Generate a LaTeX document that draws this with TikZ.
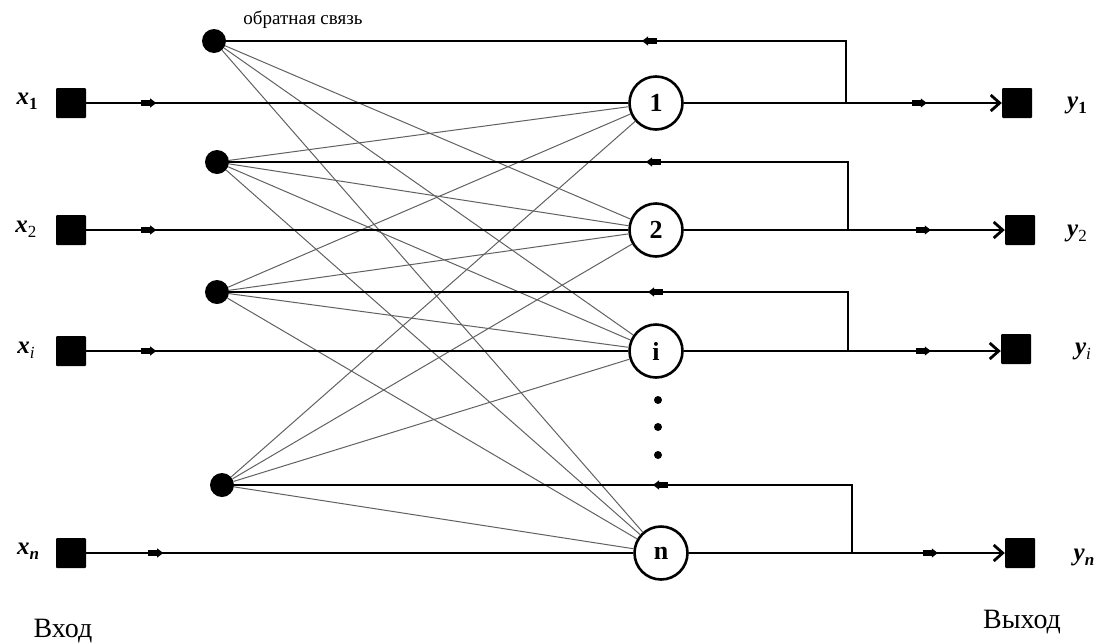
\documentclass[tikz,border=0pt]{standalone}
\usepackage{fontspec}
\setmainfont{Liberation Serif}
\usetikzlibrary{arrows.meta,decorations.markings}
\newcommand\midtip{\fill (-15pt,-3pt) rectangle (-5pt,3pt); \fill (-6pt,-4.6pt) -- (0pt,0pt) -- (-6pt,4.6pt) -- cycle;}
\newcommand\lab[2]{{\fontsize{25}{25}\selectfont\bfseries\itshape #1}\raisebox{-5pt}{\fontsize{17}{17}\selectfont #2}}
\tikzset{
  thickline/.style={line width=2.8pt},
  insq/.style={fill=black, minimum size=30pt, inner sep=0pt, rounded corners=1pt},
  neuron/.style={circle, draw, line width=2.6pt, minimum size=53pt, inner sep=0pt, fill=white, font=\fontsize{26}{26}\selectfont\bfseries},
  fbdot/.style={circle, fill=black, minimum size=24pt, inner sep=0pt},
  vdot/.style={circle, fill=black, minimum size=8pt, inner sep=0pt},
  weight/.style={draw=black!62, line width=1pt},
  midmark/.style={postaction={decorate}, decoration={markings, mark=at position #1 with {\midtip}}},
  lbl/.style={inner sep=0pt},
  big/.style={inner sep=0pt, font=\fontsize{28}{28}\selectfont},
}
\begin{document}
\begin{tikzpicture}[x=1pt,y=-1pt]
\useasboundingbox (0,0) rectangle (1099,643);
% input squares
\node[insq] (x1) at (71,103) {};
\node[insq] (x2) at (71,230) {};
\node[insq] (xi) at (71,351) {};
\node[insq] (xn) at (71,553) {};
% output squares
\node[insq] (o1) at (1017,103) {};
\node[insq] (o2) at (1020,230) {};
\node[insq] (oi) at (1016,349) {};
\node[insq] (on) at (1020,553) {};
% neurons
\node[neuron] (n1) at (656,103) {1};
\node[neuron] (n2) at (656,230) {2};
\node[neuron] (ni) at (656,351) {i};
\node[neuron] (nn) at (661,553) {n};
% feedback dots
\node[fbdot] (d1) at (214,41) {};
\node[fbdot] (d2) at (217,162) {};
\node[fbdot] (d3) at (217,292) {};
\node[fbdot] (d4) at (222,485) {};
% ellipsis
\node[vdot] (e1) at (658,400) {};
\node[vdot] (e2) at (658,427) {};
\node[vdot] (e3) at (658,455) {};
% weights
\foreach \d/\n in {d1/n2,d1/ni,d1/nn,d2/n1,d2/n2,d2/ni,d2/nn,d3/n1,d3/n2,d3/ni,d3/nn,d4/n1,d4/n2,d4/ni,d4/nn}
  \draw[weight] (\d) -- (\n);
% input lines
\draw[thickline, midmark=70pt] (x1) -- (n1);
\draw[thickline, midmark=70pt] (x2) -- (n2);
\draw[thickline, midmark=70pt] (xi) -- (ni);
\draw[thickline, midmark=77pt] (xn) -- (nn);
% output lines
\draw[thickline, midmark=243pt, -{Straight Barb[length=9pt,width=16pt]}] (n1) -- (o1.west |- n1);
\draw[thickline, midmark=247pt, -{Straight Barb[length=9pt,width=16pt]}] (n2) -- (o2.west |- n2);
\draw[thickline, midmark=247pt, -{Straight Barb[length=9pt,width=16pt]}] (ni) -- (oi.west |- ni);
\draw[thickline, midmark=249pt, -{Straight Barb[length=9pt,width=16pt]}] (nn) -- (on.west |- nn);
% feedback
\coordinate (j1) at (846,103);
\coordinate (j2) at (848,230);
\coordinate (ji) at (848,351);
\coordinate (jn) at (852,553);
\draw[thickline, midmark=266pt] (j1) |- (d1);
\draw[thickline, midmark=270pt] (j2) |- (d2);
\draw[thickline, midmark=259pt] (ji) |- (d3);
\draw[thickline, midmark=267pt] (jn) |- (d4);
% labels
\node[lbl] (lx1) at (27,101) {\lab{x}{\bfseries 1}};
\node[lbl] (lx2) at (26,229) {\lab{x}{2}};
\node[lbl] (lxi) at (26,350) {\lab{x}{\itshape i}};
\node[lbl] (lxn) at (28,551) {\lab{x}{\bfseries\itshape n}};
\node[lbl] (ly1) at (1077,105) {\lab{y}{\bfseries 1}};
\node[lbl] (ly2) at (1077,233) {\lab{y}{2}};
\node[lbl] (lyi) at (1083,351) {\lab{y}{\itshape i}};
\node[lbl] (lyn) at (1084,557) {\lab{y}{\bfseries\itshape n}};
\node[lbl, font=\fontsize{19}{19}\selectfont] (fb) at (303,20) {обратная связь};
\node[big] (vin) at (63,631) {Вход};
\node[big] (vout) at (1022,622) {Выход};
\end{tikzpicture}
\end{document}
